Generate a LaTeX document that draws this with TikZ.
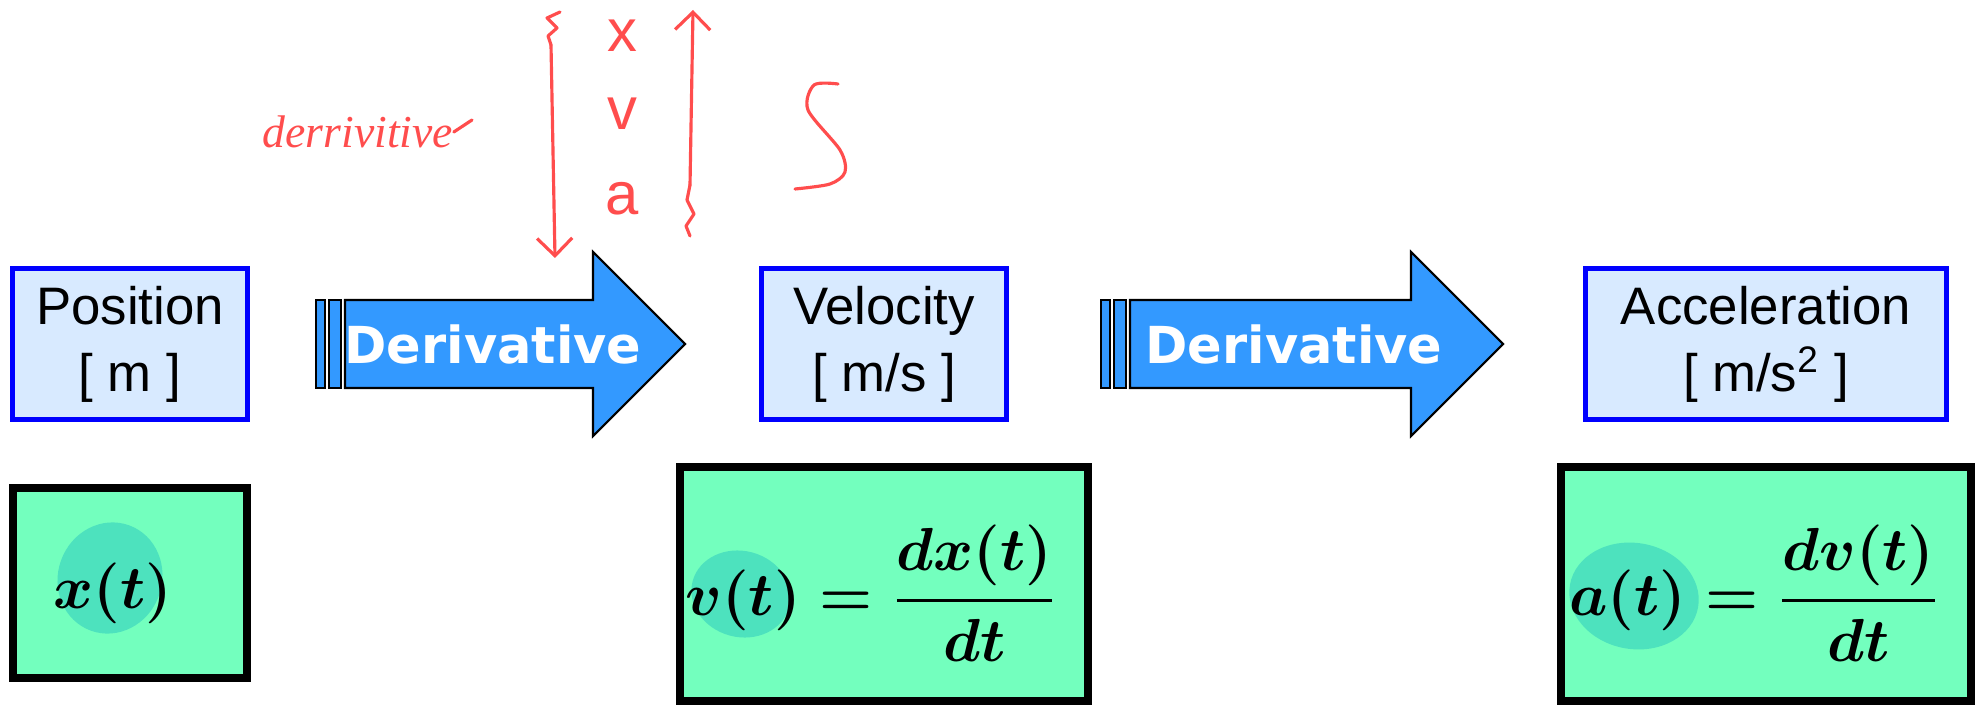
\documentclass[tikz,border=0pt]{standalone}
\usepackage{amsmath,amssymb}
\usepackage{fontspec}
\setmainfont{Liberation Sans}
\newfontfamily\heavyfont{DejaVu Sans}
\newfontfamily\handfont{Liberation Serif}
\usepackage{tikz}
\usetikzlibrary{arrows.meta}
\definecolor{boxblue}{RGB}{216,234,255}
\definecolor{rimblue}{RGB}{0,0,255}
\definecolor{arrblue}{RGB}{51,153,255}
\definecolor{eqgreen}{RGB}{115,255,190}
\definecolor{blob}{RGB}{77,226,190}
\definecolor{penred}{RGB}{255,77,77}

\begin{document}
\begin{tikzpicture}[x=0.01cm,y=-0.01cm,
  qty/.style={draw=rimblue,fill=boxblue,line width=1.4pt,align=center,
    inner sep=0,font=\fontsize{15}{19}\selectfont},
  eqbox/.style={draw=black,fill=eqgreen,line width=2.3pt,inner sep=0},
  eq/.style={inner sep=0,font=\fontsize{17}{20}\selectfont\boldmath},
  arr/.style={draw=black,fill=arrblue,line width=0.6pt},
  word/.style={text=white,inner sep=0,font=\heavyfont\bfseries\fontsize{14.5}{16}\selectfont},
  pen/.style={draw=penred,line width=0.9pt,line cap=round,line join=round},
  hand/.style={text=penred,inner sep=0,font=\fontsize{17}{17}\selectfont}]
\useasboundingbox (0,0) rectangle (1977,707);
\node[qty,minimum width=2.34cm,minimum height=1.5cm] (pos) at (130,344) {Position\\{[} m ]};
\node[qty,minimum width=2.44cm,minimum height=1.5cm] (vel) at (884,344) {Velocity\\{[} m/s ]};
\node[qty,minimum width=3.6cm,minimum height=1.5cm] (acc) at (1766,344) {Acceleration\\{[} m/s\textsuperscript{2} ]};
\foreach \n/\s/\b/\t/\c in {1/316/593/685/493,2/1101/1411/1503/1294} {
  \draw[arr] (\s,300) rectangle ++(9,88);
  \draw[arr] (\s+13,300) rectangle ++(12,88);
  \draw[arr] (\s+29,300) -- (\b,300) -- (\b,252) -- (\t,344) -- (\b,436) -- (\b,388) -- (\s+29,388) -- cycle;
  \node[word] (der\n) at (\c,344) {Derivative};
}
\node[eqbox,minimum width=2.34cm,minimum height=1.9cm] (xbox) at (130,583) {};
\node[eqbox,minimum width=4.08cm,minimum height=2.34cm] (vbox) at (884,584) {};
\node[eqbox,minimum width=4.1cm,minimum height=2.34cm] (abox) at (1766,584) {};
\fill[blob,rotate around={-20:(110,578)}] (110,578) ellipse (0.52cm and 0.56cm);
\fill[blob,rotate around={-15:(741,594)}] (741,594) ellipse (0.5cm and 0.43cm);
\fill[blob,rotate around={-10:(1634,596)}] (1634,596) ellipse (0.65cm and 0.53cm);
\node[eq] (xeq) at (113,593) {$x(t)$};
\node[eq] (veq) at (871,593) {$v(t)=\dfrac{dx(t)}{dt}$};
\node[eq] (aeq) at (1754,593) {$a(t)=\dfrac{dv(t)}{dt}$};
\node[hand,anchor=west,font=\handfont\itshape\fontsize{13}{15}\selectfont] (deriv) at (262,132) {derrivitive};
\coordinate (tail) at (472,120);
\draw[pen] (deriv.east) -- (tail);
\foreach \l/\y in {x/36,v/114,a/199}
  \node[hand] (h\l) at (622,\y) {\l};
\coordinate (dtop) at (551,45);
\coordinate (dbot) at (555,258);
\draw[pen] (560,12) -- (547,18) -- (557,28) -- (548,36) -- (dtop);
\draw[pen,-{Straight Barb[length=5pt]}] (dtop) -- (dbot);
\coordinate (ubot) at (690,185);
\coordinate (utop) at (693,10);
\draw[pen] (690,236) -- (686,226) -- (694,214) -- (687,200) -- (ubot);
\draw[pen,-{Straight Barb[length=5pt]}] (ubot) -- (utop);
\draw[pen] plot[smooth] coordinates {(838,84) (814,85) (808,110) (840,150) (845,172) (830,184) (795,189)};
\end{tikzpicture}
\end{document}
